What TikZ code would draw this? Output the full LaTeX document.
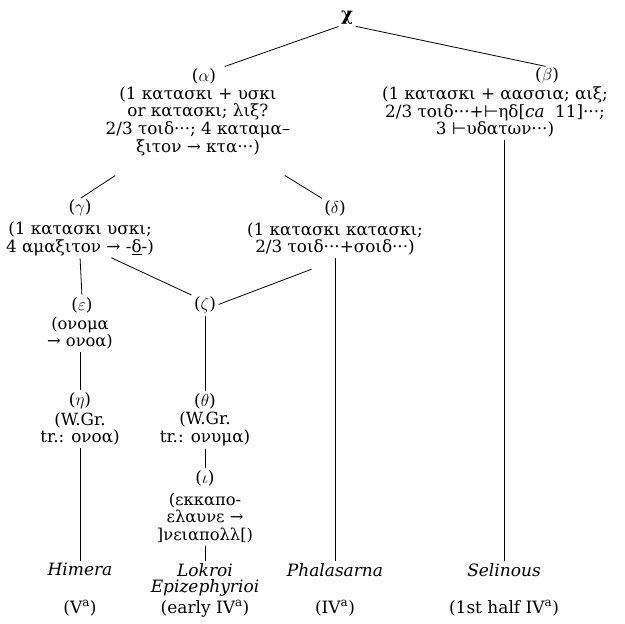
\documentclass[tikz,border=0pt]{standalone}
\usepackage{fontspec}
\setmainfont{DejaVu Serif}
\newfontfamily\symfont{DejaVu Sans}
\usetikzlibrary{calc}
\newcommand{\heta}{{\symfont ⊢}}
\tikzset{
  lbl/.style={inner sep=1pt, font=\fontsize{17}{18}\selectfont},
  txt/.style={inner sep=1pt, align=center, font=\fontsize{16.8}{17.6}\selectfont},
  small txt/.style={txt, font=\fontsize{16.3}{17.6}\selectfont},
  site/.style={inner sep=1pt, align=center, anchor=north, font=\fontsize{17}{16.5}\selectfont\itshape},
  date/.style={inner sep=1pt, anchor=base, font=\fontsize{17}{17}\selectfont},
  link/.style={line width=0.8pt, shorten <=1.5pt, shorten >=1.5pt}
}

\begin{document}
\begin{tikzpicture}[x=1pt, y=-1pt]
\useasboundingbox (0,0) rectangle (624,624);

% archetype and hyparchetypes
\node[inner sep=1pt, font=\fontsize{18}{20}\selectfont\bfseries] (chi) at (347,18) {χ};
\node[lbl] (alphal) at (204,76) {($\alpha$)};
\node[txt] (alphat) at (198,121) {(1 κατασκι + υσκι\\or κατασκι; λιξ?\\2/3 τοιδ···; 4 καταμα–\\ξιτον → κτα···)};
\node[lbl] (betal) at (547,76) {($\beta$)};
\node[txt] (betat) at (495,112) {(1 κατασκι + αασσια; αιξ;\\2/3 τοιδ···+\heta ηδ[\textit{ca}\ \ 11]···;\\3 \heta υδατων···)};

% second level
\node[lbl] (gammal) at (80,208) {($\gamma$)};
\node[txt] (gammat) at (80,239) {(1 κατασκι υσκι;\\4 αμαξιτον → -\underline{δ}-)};
\node[lbl] (deltal) at (335,208) {($\delta$)};
\node[txt] (deltat) at (335,239) {(1 κατασκι κατασκι;\\2/3 τοιδ···+σοιδ···)};

% third level
\node[lbl] (epsl) at (82,305) {($\varepsilon$)};
\node[small txt] (epst) at (80,333) {(ονομα\\→ ονοα)};
\node[lbl] (zetal) at (205,305) {($\zeta$)};
\node[lbl] (etal) at (80,401) {($\eta$)};
\node[txt] (etat) at (80,429) {(W.Gr.\\tr.: ονοα)};
\node[lbl] (thetal) at (205,401) {($\theta$)};
\node[txt] (thetat) at (205,429) {(W.Gr.\\tr.: ονυμα)};
\node[lbl] (iotal) at (205,478) {($\iota$)};
\node[small txt] (iotat) at (205,518) {(εκκαπο-\\ελαυνε →\\]νειαπολλ[)};

% inscriptions
\node[site] (himera) at (80,562) {Himera};
\node[site] (lokroi) at (205,562) {Lokroi\\Epizephyrioi};
\node[site] (phal) at (335,562) {Phalasarna};
\node[site] (selin) at (504,562) {Selinous};
\node[date] (himerad) at (80,613) {(V\textsuperscript{a})};
\node[date] (lokroid) at (205,613) {(early IV\textsuperscript{a})};
\node[date] (phald) at (335,613) {(IV\textsuperscript{a})};
\node[date] (selind) at (504,613) {(1st half IV\textsuperscript{a})};

% stemma lines
\draw[link] (chi.south west) -- ([xshift=6pt]alphal.north east);
\draw[link] (chi.south east) -- (betal.north);
\draw[link] ($(alphat.south west)+(12,18)$) -- (gammal.north);
\draw[link] ($(alphat.south east)+(-8,18)$) -- (deltal.north west);
\draw[link] (selin.north |- betat.south) -- (selin.north);
\draw[link] (gammat.south) -- (epsl.north);
\draw[link] ($(gammat.south)+(30,0)$) -- (zetal.north west);
\draw[link] ($(deltat.south)+(-22,12)$) -- (zetal.east);
\draw[link] (deltat.south) -- (phal.north);
\draw[link] (epst.south) -- (etal.north);
\draw[link] (zetal.south) -- (thetal.north);
\draw[link] (etat.south) -- (himera.north);
\draw[link] (thetat.south) -- (iotal.north);
\draw[link] (iotat.south) -- (lokroi.north);
\end{tikzpicture}
\end{document}
